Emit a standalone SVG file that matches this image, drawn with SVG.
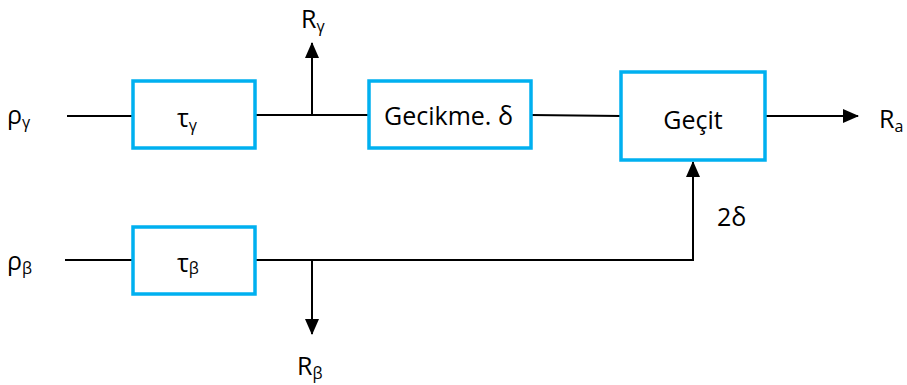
<svg xmlns="http://www.w3.org/2000/svg" width="907" height="385" viewBox="0 0 907 385">
<defs>
<marker id="ah" markerWidth="16" markerHeight="14" refX="15" refY="7" orient="auto" markerUnits="userSpaceOnUse" viewBox="0 0 16 14">
<path d="M0,0 L16,7 L0,14 z" fill="#000"/>
</marker>
<style>
.box{fill:#fff;stroke:#00B0F0;stroke-width:3.5}
.ln{stroke:#000;stroke-width:2;fill:none}
text{font-family:"Open Sans","Liberation Sans",sans-serif;fill:#000;font-size:25px}
.sub{font-size:16px}
</style>
</defs>
<g id="connectors">
<line class="ln" x1="67" y1="116" x2="133" y2="116"/>
<line class="ln" x1="255" y1="115" x2="369" y2="115"/>
<line class="ln" x1="531" y1="115" x2="621" y2="116"/>
<line class="ln" x1="765" y1="116" x2="858" y2="116" marker-end="url(#ah)"/>
<line class="ln" x1="312" y1="116" x2="312" y2="43" marker-end="url(#ah)"/>
<line class="ln" x1="65" y1="260" x2="133" y2="260"/>
<line class="ln" x1="255" y1="260" x2="694" y2="260"/>
<line class="ln" x1="693" y1="261" x2="693" y2="162" marker-end="url(#ah)"/>
<line class="ln" x1="312" y1="260" x2="312" y2="334" marker-end="url(#ah)"/>
</g>
<g id="tau-gamma">
<rect class="box" x="133" y="81" width="122" height="67"/>
<text x="177" y="127" font-size="24">τ<tspan class="sub" dy="4">γ</tspan></text>
</g>
<g id="gecikme">
<rect class="box" x="369" y="81" width="162" height="67"/>
<text x="384" y="125" font-size="23">Gecikme. δ</text>
</g>
<g id="gecit">
<rect class="box" x="621" y="72" width="144" height="88"/>
<text x="693" y="129" text-anchor="middle" font-size="26">Geçit</text>
</g>
<g id="tau-beta">
<rect class="box" x="133" y="227" width="122" height="67"/>
<text x="177" y="272" font-size="24">τ<tspan class="sub" dy="2">β</tspan></text>
</g>
<g id="labels">
<text x="7" y="124">ρ<tspan class="sub" dy="4">γ</tspan></text>
<text x="7" y="270">ρ<tspan class="sub" dy="4">β</tspan></text>
<text x="301" y="28">R<tspan class="sub" dy="4">γ</tspan></text>
<text x="297" y="375">R<tspan class="sub" dy="4">β</tspan></text>
<text x="879" y="128">R<tspan class="sub" dy="4">a</tspan></text>
<text x="717" y="226">2δ</text>
</g>
</svg>
